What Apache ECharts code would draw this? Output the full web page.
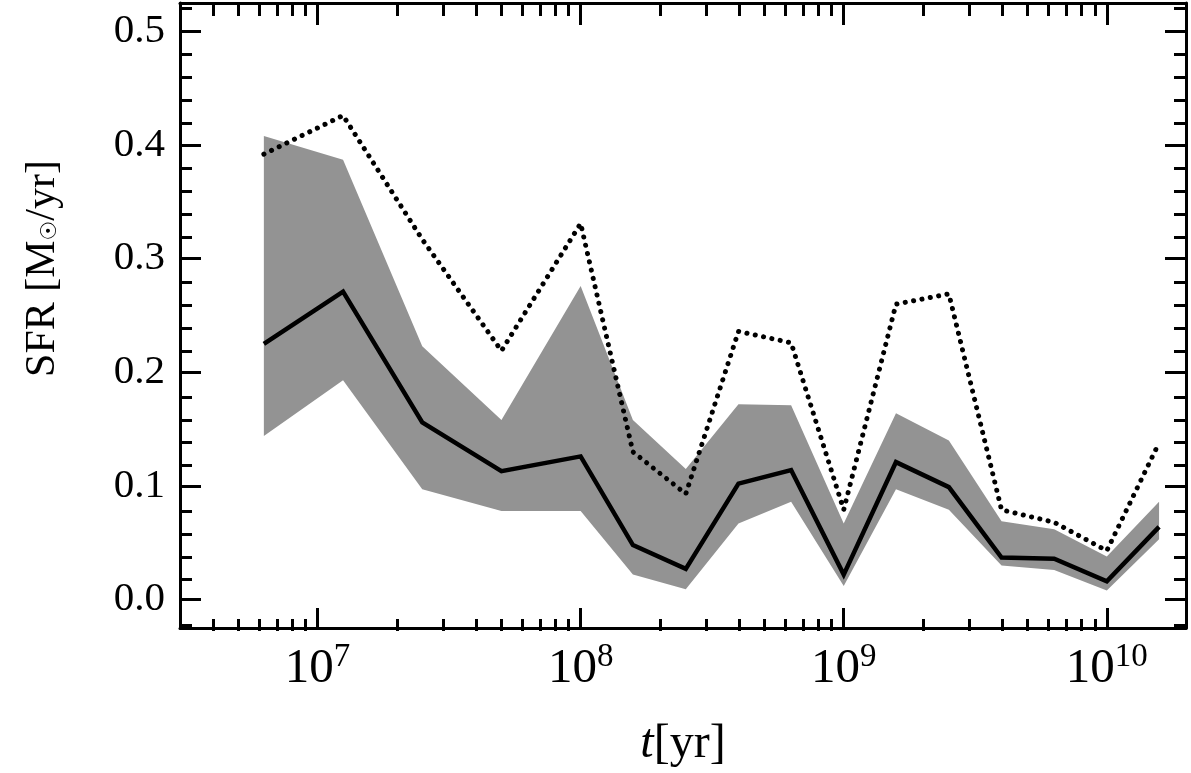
<!DOCTYPE html>
<html>
<head>
<meta charset="utf-8">
<script src="https://cdn.jsdelivr.net/npm/echarts@6/dist/echarts.min.js"></script>
<style>
  html, body { margin: 0; padding: 0; background: #fff; }
  #chart { width: 1191px; height: 773px; }
</style>
</head>
<body>
<div id="chart"></div>
<script>
// time bins [yr]
const times = [6.25e6, 1.25e7, 2.5e7, 5e7, 1e8, 1.58e8, 2.51e8, 3.98e8, 6.31e8, 1e9, 1.58e9, 2.51e9, 3.98e9, 6.31e9, 1e10, 1.58e10];
// SFR [Msun/yr]
const sfrMedian = [0.225, 0.271, 0.156, 0.113, 0.126, 0.048, 0.027, 0.102, 0.114, 0.022, 0.121, 0.099, 0.037, 0.036, 0.016, 0.064];
const sfrDotted = [0.392, 0.426, 0.317, 0.219, 0.331, 0.130, 0.093, 0.236, 0.226, 0.079, 0.260, 0.269, 0.079, 0.068, 0.043, 0.138];
const sfrUpper = [0.408, 0.387, 0.223, 0.158, 0.276, 0.158, 0.115, 0.172, 0.171, 0.067, 0.164, 0.140, 0.069, 0.062, 0.038, 0.086];
const sfrLower = [0.144, 0.193, 0.097, 0.078, 0.078, 0.022, 0.009, 0.067, 0.086, 0.012, 0.097, 0.079, 0.030, 0.026, 0.008, 0.053];

const xMajor = [1e7, 1e8, 1e9, 1e10];
const xMinor = [4e6, 5e6, 6e6, 7e6, 8e6, 9e6,
  2e7, 3e7, 4e7, 5e7, 6e7, 7e7, 8e7, 9e7,
  2e8, 3e8, 4e8, 5e8, 6e8, 7e8, 8e8, 9e8,
  2e9, 3e9, 4e9, 5e9, 6e9, 7e9, 8e9, 9e9];
const yMajor = [0, 0.1, 0.2, 0.3, 0.4, 0.5];
const yMinor = [-0.02, 0.02, 0.04, 0.06, 0.08, 0.12, 0.14, 0.16, 0.18, 0.22, 0.24, 0.26, 0.28,
  0.32, 0.34, 0.36, 0.38, 0.42, 0.44, 0.46, 0.48, 0.52];

const serif = '"Liberation Serif", "DejaVu Serif", serif';
const gridBox = { left: 180, right: 5, top: 3, bottom: 142 };

function xAx(grid, pos, ticks, len, showLine, label) {
    return {
        type: 'log', gridIndex: grid, position: pos, min: 3e6, max: 2e10,
        splitLine: { show: false },
        axisLine: { show: showLine, onZero: false, lineStyle: { color: '#000', width: 3 } },
        axisTick: { show: true, inside: true, length: len, customValues: ticks, lineStyle: { color: '#000', width: 3 } },
        axisLabel: label || { show: false }
    };
}
function yAx(grid, pos, ticks, len, showLine, label) {
    return {
        type: 'value', gridIndex: grid, position: pos, min: -0.025, max: 0.525,
        splitLine: { show: false },
        axisLine: { show: showLine, onZero: false, lineStyle: { color: '#000', width: 3 } },
        axisTick: { show: true, inside: true, length: len, customValues: ticks, lineStyle: { color: '#000', width: 3 } },
        axisLabel: label || { show: false }
    };
}

const xLabel = {
    show: true, customValues: xMajor, margin: 13,
    formatter: v => '{b|10}{s|' + Math.round(Math.log10(v)) + '}',
    rich: {
        b: { fontFamily: serif, fontSize: 49, color: '#000' },
        s: { fontFamily: serif, fontSize: 33, color: '#000', padding: [0, 0, 24, 0] }
    }
};
const yLabel = {
    show: true, customValues: yMajor, margin: 15,
    fontFamily: serif, fontSize: 41, color: '#000',
    formatter: v => v.toFixed(1)
};

const xMain = xAx(0, 'bottom', xMajor, 20, true, xLabel);
xMain.name = '{i|t}{n|[yr]}';
xMain.nameLocation = 'middle';
xMain.nameGap = 92;
xMain.nameTextStyle = {
    rich: {
        i: { fontFamily: serif, fontSize: 48, fontStyle: 'italic', color: '#000' },
        n: { fontFamily: serif, fontSize: 48, color: '#000' }
    }
};

const yMain = yAx(0, 'left', yMajor, 21, true, yLabel);
yMain.name = '{a|SFR [M}{o|☉}{a|/yr]}';
yMain.nameLocation = 'middle';
yMain.nameGap = 116;
yMain.nameTextStyle = {
    padding: [0, 0, 0, 94],
    rich: {
        a: { fontFamily: serif, fontSize: 42, color: '#000' },
        o: { fontFamily: '"DejaVu Sans", sans-serif', fontSize: 22, color: '#000', padding: [14, 0, 0, 0] }
    }
};

const pairs = arr => times.map((t, i) => [t, arr[i]]);

const option = {
    animation: false,
    backgroundColor: '#fff',
    grid: [Object.assign({}, gridBox), Object.assign({}, gridBox)],
    xAxis: [
        xMain,
        xAx(0, 'top', xMajor, 22, true),
        xAx(1, 'bottom', xMinor, 12, false),
        xAx(1, 'top', xMinor, 13, false)
    ],
    yAxis: [
        yMain,
        yAx(0, 'right', yMajor, 21, true),
        yAx(1, 'left', yMinor, 12, false),
        yAx(1, 'right', yMinor, 12, false)
    ],
    series: [
        {
            // grey band between lower and upper, drawn as one polygon
            type: 'custom', name: 'band',
            data: times.map((t, i) => [t, sfrLower[i], sfrUpper[i]]),
            encode: { x: 0, y: [1, 2] },
            renderItem: (params, api) => {
                if (params.dataIndex !== 0) return;
                const top = times.map((t, i) => api.coord([t, sfrUpper[i]]));
                const bot = times.map((t, i) => api.coord([t, sfrLower[i]])).reverse();
                return {
                    type: 'polygon',
                    shape: { points: top.concat(bot) },
                    style: { fill: '#939393' }
                };
            }
        },
        {
            type: 'line', name: 'dotted', data: pairs(sfrDotted), symbol: 'none',
            lineStyle: { color: '#000', width: 5, type: [0.1, 8.4], cap: 'round' }
        },
        {
            type: 'line', name: 'median', data: pairs(sfrMedian), symbol: 'none',
            lineStyle: { color: '#000', width: 4.5, join: 'miter' }
        }
    ]
};

const chart = echarts.init(document.getElementById('chart'));
chart.setOption(option);
</script>
</body>
</html>
